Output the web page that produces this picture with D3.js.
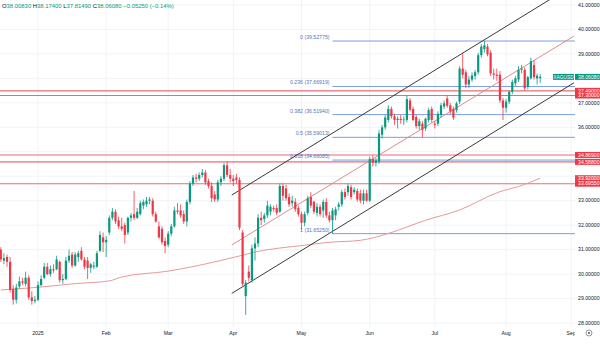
<!DOCTYPE html>
<html><head><meta charset="utf-8">
<script src="https://cdn.jsdelivr.net/npm/d3@7"></script>
<style>html,body{margin:0;padding:0;background:#fff;}svg{display:block;font-family:"Liberation Sans",Arial,sans-serif;}</style>
</head><body>
<svg id="c" width="600" height="345"></svg>
<script>
// ---- data ----
const firstIndex = -12; // bar index of first candle (0 = 2 Jan 2025)
const opens  = [31.0,30.55,30.7,30.5,29.4,28.95,29.5,29.7,29.6,29.85,29.05,28.9,
 28.95,29.55,29.85,30.3,30.0,30.2,30.2,30.5,29.75,29.8,30.55,30.8,30.35,30.7,30.95,30.6,30.55,30.25,30.3,30.3,30.95,31.5,
 31.3,31.7,32.3,32.55,32.2,31.95,32.0,31.7,32.3,32.45,32.3,32.45,32.8,32.85,33.0,33.0,32.45,31.95,31.85,31.35,31.2,
 31.65,31.95,32.6,32.6,32.45,32.15,32.95,33.7,33.95,33.9,34.05,34.15,33.8,33.6,33.25,33.05,33.75,33.9,34.45,34.05,33.9,
 33.95,33.85,31.7,29.1,30.1,29.75,31.05,31.25,32.3,32.25,32.4,32.55,32.7,32.7,32.55,33.6,33.5,33.15,32.9,32.95,32.7,
 32.45,32.1,32.5,33.15,32.95,32.5,32.75,32.6,32.95,32.4,32.2,32.4,32.75,32.85,33.35,33.35,33.55,33.35,33.4,33.3,33.0,33.3,
 33.0,34.7,34.55,34.6,35.7,36.0,36.3,36.75,36.45,36.3,36.35,36.3,36.3,37.1,36.75,36.42,36.05,36.15,35.95,36.3,36.75,
 36.15,36.15,36.5,36.85,37.18,36.9,36.75,36.7,37.05,38.4,38.25,37.75,37.95,38.1,38.25,38.95,39.2,39.3,39.05,38.2,38.15,38.15,37.1,
 36.8,37.05,37.45,37.8,37.95,38.35,38.35,37.65,38.0,38.55,38.0,38.0083];
const highs  = [31.1,30.85,30.8,30.7,29.55,29.6,29.9,29.85,30.1,29.95,29.3,29.1,
 29.7,29.95,30.45,30.45,30.35,30.4,30.75,30.55,30.0,30.7,31.0,30.9,30.9,30.95,31.1,30.7,30.7,30.45,30.5,30.95,31.75,31.7,
 31.55,32.4,32.7,32.65,32.35,32.3,32.1,32.35,32.5,33.4,32.7,33.0,33.05,33.15,33.15,33.1,32.55,32.15,31.95,31.5,31.75,
 32.05,32.75,32.9,32.85,32.6,33.05,33.8,34.05,34.1,34.15,34.3,34.25,33.9,33.75,33.4,33.85,34.0,34.55,34.6,34.3,34.05,
 34.1,33.95,31.8,29.75,30.35,31.2,31.5,32.45,32.55,32.5,33.0,32.85,32.8,32.85,33.7,33.7,33.65,33.3,33.2,33.1,32.8,
 32.55,32.55,33.2,33.35,33.0,32.9,32.85,33.05,33.1,32.55,32.7,32.75,32.95,33.45,33.5,33.7,33.65,33.55,33.5,33.45,33.45,33.45,
 34.8,34.85,34.75,35.9,36.1,36.5,36.9,36.85,36.55,36.45,36.5,36.45,37.3,37.2,36.85,36.5,36.35,36.25,36.4,36.8,36.85,
 36.25,36.65,37.0,37.1,37.3,37.0,36.85,37.05,38.5,39.05,38.35,38.1,38.25,38.35,39.05,39.4,39.53,39.4,39.15,38.4,38.4,38.3,
 37.2,37.15,37.5,37.95,38.1,38.5,38.55,38.45,38.1,38.85,38.75,38.2,38.174];
const lows   = [30.5,30.4,30.3,29.25,28.75,28.8,29.4,29.55,29.5,28.95,28.75,28.8,
 28.9,29.5,29.8,29.95,29.9,30.05,30.15,29.65,29.6,29.75,30.45,30.25,30.3,30.5,30.55,30.2,29.8,30.05,30.2,30.25,30.9,30.9,
 30.7,31.6,32.2,32.05,31.85,31.75,31.25,31.6,32.15,32.2,32.25,32.4,32.65,32.75,32.85,32.35,32.1,31.45,31.2,30.85,31.1,
 31.55,31.9,32.45,32.3,32.05,31.95,32.85,33.6,33.75,33.8,33.95,33.65,33.5,32.95,32.95,32.95,33.6,33.8,33.95,33.75,33.6,
 33.7,31.8,29.5,28.33,29.7,29.65,30.55,31.1,32.0,32.1,32.3,32.4,32.55,32.4,32.5,33.0,33.0,32.75,32.75,32.55,32.35,
 31.8,31.95,32.4,32.7,32.45,32.35,32.35,32.3,32.3,32.1,31.65,32.2,32.6,32.75,33.05,33.2,33.05,33.25,32.95,32.9,32.85,32.95,
 32.95,34.4,34.4,34.5,35.55,35.9,36.2,36.35,36.1,35.95,36.15,36.1,36.2,36.65,36.25,35.95,35.9,35.6,35.85,36.2,36.2,
 35.95,36.05,36.4,36.75,36.8,36.55,36.3,36.6,36.95,38.0,37.6,37.6,37.85,37.95,38.15,38.85,39.05,38.9,38.1,37.95,37.9,37.0,
 36.3,36.6,36.95,37.35,37.7,37.85,38.2,37.5,37.55,37.95,37.95,37.75,37.8149];
const closes = [30.6,30.65,30.5,29.35,28.95,29.45,29.7,29.65,29.85,29.05,28.9,28.95,
 29.55,29.8,30.3,30.0,30.2,30.15,30.6,29.75,29.8,30.55,30.75,30.35,30.8,30.85,30.6,30.3,30.25,30.4,30.35,30.85,31.6,31.3,
 31.4,32.3,32.55,32.15,31.95,31.85,31.6,32.3,32.4,32.3,32.55,32.9,32.95,33.0,33.05,32.45,32.15,31.5,31.3,31.15,31.65,
 31.95,32.6,32.55,32.4,32.15,32.95,33.7,33.95,33.9,34.05,34.15,33.75,33.6,33.1,33.05,33.75,33.9,34.45,34.05,33.9,33.8,
 33.85,31.9,29.6,29.65,29.85,31.05,31.25,32.3,32.2,32.4,32.8,32.75,32.65,32.5,33.6,33.2,33.1,32.85,33.0,32.65,32.45,
 32.1,32.45,33.1,32.8,32.55,32.75,32.45,32.95,32.4,32.2,32.6,32.65,32.85,33.35,33.15,33.6,33.15,33.45,33.05,33.0,33.3,33.0,
 34.7,34.55,34.65,35.75,36.0,36.4,36.75,36.45,36.3,36.35,36.3,36.32,37.15,36.72,36.3,36.05,36.25,35.9,36.35,36.7,36.3,
 36.1,36.55,36.9,36.98,36.88,36.65,36.4,36.98,38.4,38.15,37.75,37.95,38.12,38.25,38.95,39.3,39.35,38.98,38.2,38.15,38.1,37.1,
 36.8,37.05,37.45,37.85,38.0,38.35,38.4,37.6,38.05,38.7,38.05,38.11,38.0608];

// 200-day moving average, read at a few bars
const maIndex = [-12, 0, 13, 23, 27, 42, 65, 70, 86, 94, 104, 113, 125, 136, 149, 155, 162];
const maValue = [29.35, 29.46, 29.62, 29.72, 29.88, 30.12, 30.74, 30.9, 31.18, 31.3, 31.38, 31.66, 32.2, 32.62, 33.37, 33.58, 33.92];

// Fibonacci retracement (drawn from the May low bar to the right edge)
const fibStartIndex = 95;
const fibLevels = [0, 0.236, 0.382, 0.5, 0.618, 1];
const fibPrices = [39.52775, 37.66919, 36.51940, 35.59013, 34.66085, 31.65250];

// horizontal levels
const redLevels = [37.49, 37.30, 34.869, 34.588, 33.6955];

// regression channel (start/end bar, prices)
const channelIndex = [62.5, 172.9];
const channelUpper = [33.23, 41.83];
const channelMiddle = [31.19, 39.73];
const channelLower = [29.21, 37.82];

// axes
const priceTicks = [28,29,30,31,32,33,34,35,36,37,38,39,40,41];
const monthLabels = ["2025","Feb","Mar","Apr","May","Jun","Jul","Aug","Sep"];
const monthIndex  = [0, 22, 42, 63, 85, 107, 128, 151, 172];

const header = [["O","38.00830"],["H","38.17400"],["L","37.81490"],["C","38.06080"],["","−0.05250 (−0.14%)"]];
const symbol = "XAGUSD";

// ---- drawing ----
const svg = d3.select("#c");
const plotR = 575, plotB = 327;
const x = d3.scaleLinear().domain([0, 172]).range([38, 571.2]);
const y = d3.scaleLinear().domain([28, 41]).range([323, 5]);
const UP = "#089981", DN = "#f23645";

const defs = svg.append("defs");
defs.append("clipPath").attr("id","plot").append("rect").attr("x",0).attr("y",0).attr("width",plotR).attr("height",plotB);
defs.append("clipPath").attr("id","taxis").append("rect").attr("x",0).attr("y",plotB).attr("width",plotR).attr("height",345-plotB);

const g = svg.append("g").attr("clip-path","url(#plot)");

// grid
g.selectAll(".hg").data(priceTicks).join("line")
  .attr("x1",0).attr("x2",plotR).attr("y1",d=>y(d)).attr("y2",d=>y(d))
  .attr("stroke","#f1f3f7").attr("stroke-width",1);
g.selectAll(".vg").data(monthIndex).join("line")
  .attr("x1",d=>x(d)).attr("x2",d=>x(d)).attr("y1",0).attr("y2",plotB)
  .attr("stroke","#f1f3f7").attr("stroke-width",1);

// red horizontal levels
g.selectAll(".rl").data(redLevels).join("line")
  .attr("x1",0).attr("x2",plotR).attr("y1",d=>y(d)).attr("y2",d=>y(d))
  .attr("stroke","#e8505e").attr("stroke-opacity",0.85).attr("stroke-width",1.1);

// fib lines
const fibX0 = x(fibStartIndex);
g.selectAll(".fl").data(fibPrices).join("line")
  .attr("x1",fibX0).attr("x2",plotR).attr("y1",d=>y(d)).attr("y2",d=>y(d))
  .attr("stroke","#7c9fe0").attr("stroke-width",1);
g.selectAll(".ft").data(fibPrices).join("text")
  .attr("x",fibX0-3).attr("y",d=>y(d)-2)
  .attr("text-anchor","end").attr("font-size",5.2).attr("fill","#4f78c4")
  .text((d,i)=>`${fibLevels[i]} (${d.toFixed(5)})`);

// moving average
const ma = maIndex.map((d,i)=>[d, maValue[i]]);
g.append("path").datum(ma)
  .attr("d", d3.line().x(d=>x(d[0])).y(d=>y(d[1])).curve(d3.curveMonotoneX))
  .attr("fill","none").attr("stroke","#e79a9a").attr("stroke-width",1);

// channel
const chan = [[channelUpper,"#3a3a3a"],[channelMiddle,"#de8c8c"],[channelLower,"#3a3a3a"]];
chan.forEach(([p,col])=>{
  g.append("line").attr("x1",x(channelIndex[0])).attr("y1",y(p[0]))
    .attr("x2",x(channelIndex[1])).attr("y2",y(p[1]))
    .attr("stroke",col).attr("stroke-width",1);
});

// candles
const candles = opens.map((o,k)=>({i:firstIndex+k,o,h:highs[k],l:lows[k],c:closes[k]}));
const bw = 2.2;
const cg = g.append("g");
cg.selectAll(".w").data(candles).join("line")
  .attr("x1",d=>x(d.i)).attr("x2",d=>x(d.i)).attr("y1",d=>y(d.h)).attr("y2",d=>y(d.l))
  .attr("stroke",d=>d.c>=d.o?UP:DN).attr("stroke-width",0.8);
cg.selectAll(".b").data(candles).join("rect")
  .attr("x",d=>x(d.i)-bw/2).attr("width",bw)
  .attr("y",d=>y(Math.max(d.o,d.c))).attr("height",d=>Math.max(0.8,Math.abs(y(d.o)-y(d.c))))
  .attr("fill",d=>d.c>=d.o?UP:DN);

// price boxes (value, colour, text)
const last = closes[closes.length-1];
const maLast = maValue[maValue.length-1];
const boxes = redLevels.slice(0,4).map(v=>[v,DN,v.toFixed(5)])
  .concat([[maLast,"#e5484d",maLast.toFixed(5)],[redLevels[4],DN,redLevels[4].toFixed(5)],[last,UP,last.toFixed(5)]]);

// price axis labels (those covered by a price box are hidden, as on the source)
const ax = svg.append("g");
const visibleTicks = priceTicks.filter(t => boxes.every(b => Math.abs(y(t)-y(b[0])) >= 4.5));
ax.selectAll("text").data(visibleTicks).join("text")
  .attr("x",578).attr("y",d=>y(d)+1.8).attr("font-size",5.2).attr("fill","#131722")
  .text(d=>d.toFixed(5));

boxes.forEach(([val,col,txt])=>{
  const yy = y(val);
  ax.append("rect").attr("x",575).attr("y",yy-3).attr("width",25).attr("height",6).attr("fill",col);
  ax.append("text").attr("x",578).attr("y",yy+1.8).attr("font-size",5.2).attr("fill","#fff").text(txt);
});
ax.append("rect").attr("x",553).attr("y",y(last)-3).attr("width",21).attr("height",6).attr("fill",UP);
ax.append("text").attr("x",563.5).attr("y",y(last)+1.8).attr("text-anchor","middle")
  .attr("font-size",4.8).attr("fill","#fff").text(symbol);

// time axis
svg.append("g").attr("clip-path","url(#taxis)")
  .selectAll("text").data(monthLabels).join("text")
  .attr("x",(d,i)=>x(monthIndex[i])).attr("y",335).attr("text-anchor","middle")
  .attr("font-size",5.2).attr("fill","#131722").text(d=>d);
svg.append("circle").attr("cx",589).attr("cy",333).attr("r",3).attr("fill","none").attr("stroke","#555").attr("stroke-width",0.6);
svg.append("circle").attr("cx",589).attr("cy",333).attr("r",1).attr("fill","#555");

// header
const ht = svg.append("text").attr("x",2).attr("y",8).attr("font-size",5.9);
header.forEach(([k,v],i)=>{
  ht.append("tspan").attr("fill","#131722").text((i?" ":"")+k);
  ht.append("tspan").attr("fill",UP).text(v);
});
</script>
</body></html>
